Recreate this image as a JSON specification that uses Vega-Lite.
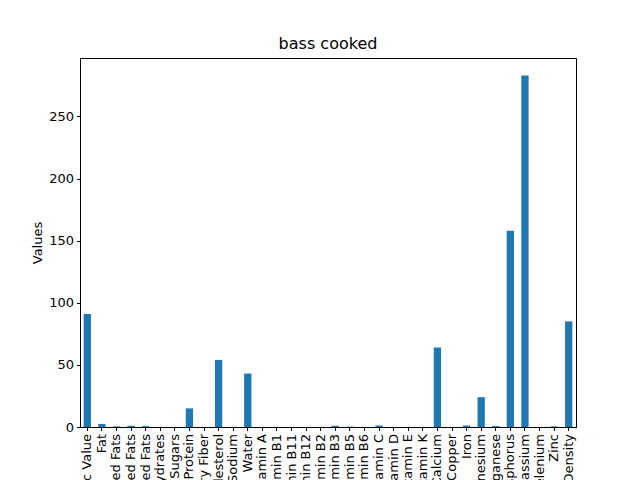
{
  "$schema": "https://vega.github.io/schema/vega-lite/v6.json",
  "autosize": "none",
  "width": 496,
  "height": 369,
  "padding": {"left": 80, "top": 58, "right": 64, "bottom": 53},
  "title": {"text": "bass cooked", "font": "DejaVu Sans", "fontSize": 16, "fontWeight": "normal", "offset": 6},
  "data": {
    "values": [
      {"Nutrient": "Caloric Value", "Value": 91},
      {"Nutrient": "Fat", "Value": 2.5},
      {"Nutrient": "Saturated Fats", "Value": 0.5},
      {"Nutrient": "Monounsaturated Fats", "Value": 1.0},
      {"Nutrient": "Polyunsaturated Fats", "Value": 0.7},
      {"Nutrient": "Carbohydrates", "Value": 0},
      {"Nutrient": "Sugars", "Value": 0},
      {"Nutrient": "Protein", "Value": 15},
      {"Nutrient": "Dietary Fiber", "Value": 0},
      {"Nutrient": "Cholesterol", "Value": 54},
      {"Nutrient": "Sodium", "Value": 0.1},
      {"Nutrient": "Water", "Value": 43},
      {"Nutrient": "Vitamin A", "Value": 0},
      {"Nutrient": "Vitamin B1", "Value": 0.1},
      {"Nutrient": "Vitamin B11", "Value": 0},
      {"Nutrient": "Vitamin B12", "Value": 0},
      {"Nutrient": "Vitamin B2", "Value": 0.1},
      {"Nutrient": "Vitamin B3", "Value": 1.0},
      {"Nutrient": "Vitamin B5", "Value": 0.3},
      {"Nutrient": "Vitamin B6", "Value": 0.1},
      {"Nutrient": "Vitamin C", "Value": 1.2},
      {"Nutrient": "Vitamin D", "Value": 0},
      {"Nutrient": "Vitamin E", "Value": 0},
      {"Nutrient": "Vitamin K", "Value": 0},
      {"Nutrient": "Calcium", "Value": 64},
      {"Nutrient": "Copper", "Value": 0},
      {"Nutrient": "Iron", "Value": 1.2},
      {"Nutrient": "Magnesium", "Value": 24},
      {"Nutrient": "Manganese", "Value": 0.8},
      {"Nutrient": "Phosphorus", "Value": 158},
      {"Nutrient": "Potassium", "Value": 283},
      {"Nutrient": "Selenium", "Value": 0},
      {"Nutrient": "Zinc", "Value": 0.5},
      {"Nutrient": "Nutrition Density", "Value": 85}
    ]
  },
  "mark": {"type": "bar", "color": "#1f77b4"},
  "encoding": {
    "x": {
      "field": "Nutrient",
      "type": "nominal",
      "sort": null,
      "title": null,
      "scale": {"paddingInner": 0.5, "paddingOuter": 0.25},
      "axis": {"labelAngle": -90, "labelAlign": "right", "labelBaseline": "middle", "labelOverlap": false, "labelLimit": 0}
    },
    "y": {
      "field": "Value",
      "type": "quantitative",
      "title": "Values",
      "scale": {"domain": [0, 297], "nice": false},
      "axis": {"values": [0, 50, 100, 150, 200, 250], "grid": false}
    }
  },
  "config": {
    "font": "DejaVu Sans",
    "view": {"stroke": "black", "strokeWidth": 1},
    "axis": {
      "labelFont": "DejaVu Sans",
      "labelFontSize": 13,
      "labelColor": "black",
      "titleFont": "DejaVu Sans",
      "titleFontSize": 13,
      "titleFontWeight": "normal",
      "titleColor": "black",
      "domainColor": "black",
      "tickColor": "black",
      "tickSize": 3.5,
      "labelPadding": 3
    }
  }
}
